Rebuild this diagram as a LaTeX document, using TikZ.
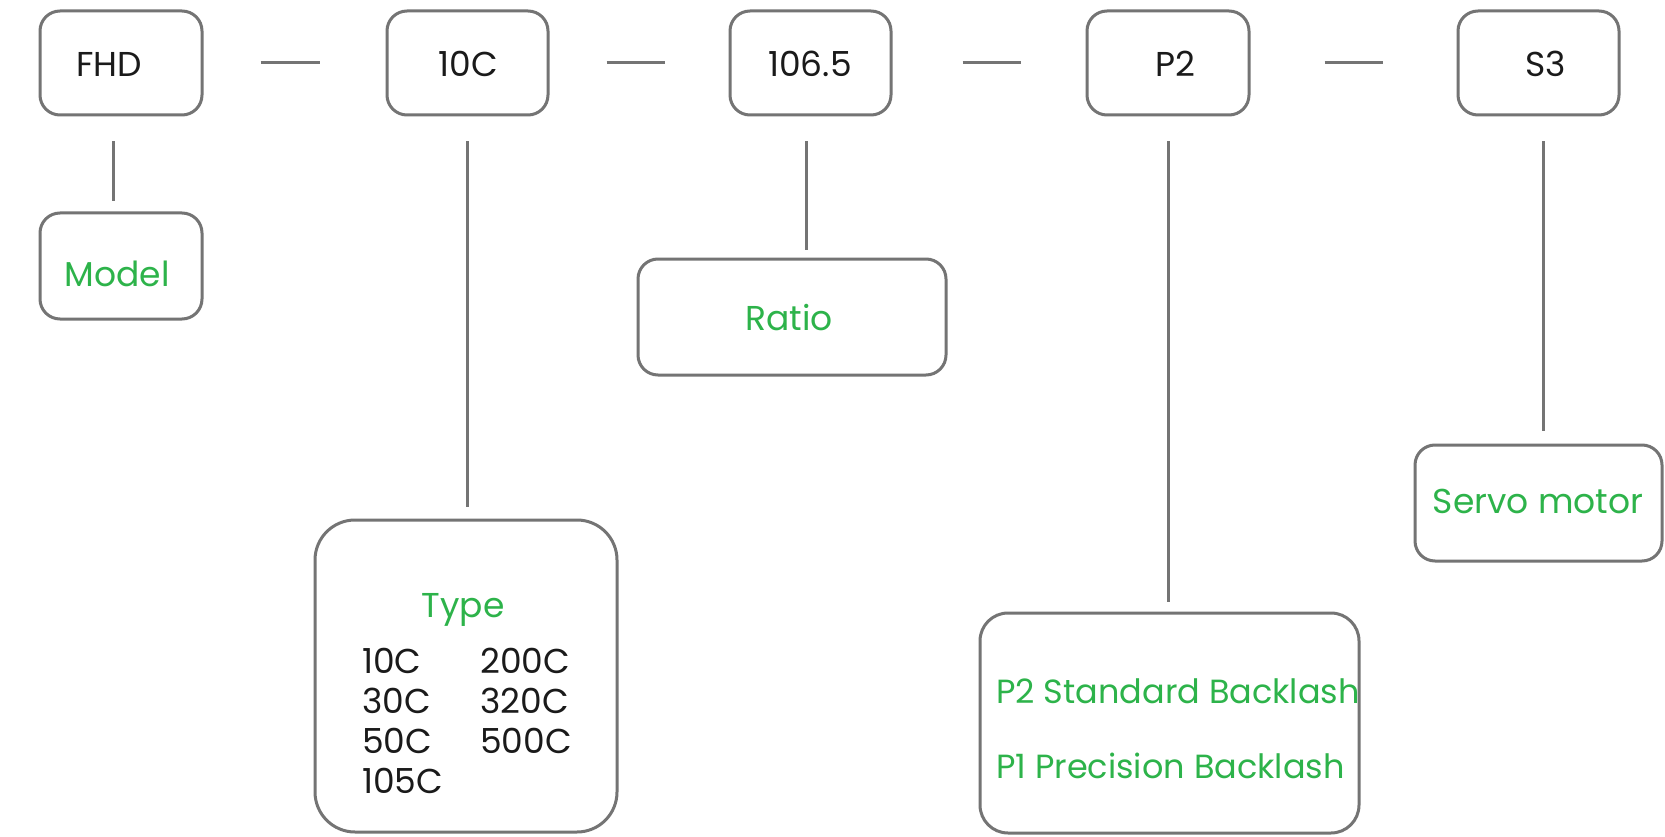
\documentclass[tikz,border=0pt]{standalone}
\usepackage{fontspec}
\setmainfont{Poppins}
\definecolor{boxgray}{HTML}{747474}
\definecolor{lblgreen}{HTML}{2DB34A}
\definecolor{txtblack}{HTML}{1A1A1A}
\tikzset{
  box/.style={draw=boxgray, line width=3pt, rounded corners=20pt, inner sep=0pt},
  conn/.style={draw=boxgray, line width=3pt},
  code/.style={text=txtblack, font=\fontsize{34.5}{40}\selectfont, inner sep=0pt},
  lbl/.style={text=lblgreen, font=\fontsize{34.5}{40}\selectfont, inner sep=0pt},
  lblsm/.style={text=lblgreen, font=\fontsize{33.5}{40}\selectfont, inner sep=0pt},
}
\begin{document}
\begin{tikzpicture}[x=1pt,y=-1pt]
\useasboundingbox[fill=white] (0,0) rectangle (1665,837);

% top code boxes
\node[box, minimum width=162pt, minimum height=104pt] (fhd)  at (121,63)    {};
\node[box, minimum width=161pt, minimum height=104pt] (c10)  at (467.5,63)  {};
\node[box, minimum width=161pt, minimum height=104pt] (v106) at (810.5,63)  {};
\node[box, minimum width=162pt, minimum height=104pt] (p2)   at (1168,63)   {};
\node[box, minimum width=161pt, minimum height=104pt] (s3)   at (1538.5,63) {};

\node[code] (tfhd)  at (109,64)  {FHD};
\node[code] (tc10)  at (468,64)  {10C};
\node[code] (tv106) at (810,64)  {106.5};
\node[code] (tp2)   at (1175,64) {P2};
\node[code] (ts3)   at (1546,64) {S3};

% description boxes
\node[box, minimum width=162pt, minimum height=106pt] (model) at (121,266) {};
\node[box, minimum width=308pt, minimum height=116pt] (ratio) at (792,317) {};
\node[box, rounded corners=40pt, minimum width=302pt, minimum height=312pt] (type) at (466,676) {};
\node[box, rounded corners=28pt, minimum width=379pt, minimum height=220pt] (back) at (1169.5,723) {};
\node[box, minimum width=247pt, minimum height=116pt] (servo) at (1538.5,503) {};

\node[lbl] (tmodel) at (117,274) {Model};
\node[lbl] (tratio) at (789,318) {Ratio};
\node[lbl] (tservo) at (1538,501) {Servo motor};
\node[lbl, anchor=base] (ttype) at (463,617) {Type};

\node[code, anchor=base west] (ta1) at (362,673) {10C};
\node[code, anchor=base west] (ta2) at (362,713) {30C};
\node[code, anchor=base west] (ta3) at (362,753) {50C};
\node[code, anchor=base west] (ta4) at (362,793) {105C};
\node[code, anchor=base west] (tb1) at (480,673) {200C};
\node[code, anchor=base west] (tb2) at (480,713) {320C};
\node[code, anchor=base west] (tb3) at (480,753) {500C};

\node[lblsm, anchor=base west] (tstd) at (996,703) {P2 Standard Backlash};
\node[lblsm, anchor=base west] (tpre) at (996,778) {P1 Precision Backlash};

% horizontal dashes
\draw[conn, shorten <=57pt, shorten >=66pt] (fhd.east) -- (c10.west);
\draw[conn, shorten <=57pt, shorten >=64pt] (c10.east) -- (v106.west);
\draw[conn, shorten <=70pt, shorten >=65pt] (v106.east) -- (p2.west);
\draw[conn, shorten <=74pt, shorten >=74pt] (p2.east) -- (s3.west);

% vertical connectors
\draw[conn, shorten <=25pt, shorten >=10pt] ([xshift=-8pt]fhd.south) -- ([xshift=-8pt]model.north);
\draw[conn, shorten <=25pt, shorten >=12pt] ([xshift=-0.5pt]c10.south) -- ([xshift=1pt]type.north);
\draw[conn, shorten <=25pt, shorten >=8pt] ([xshift=-4.5pt]v106.south) -- ([xshift=14pt]ratio.north);
\draw[conn, shorten <=25pt, shorten >=10pt] (p2.south) -- ([xshift=-1.5pt]back.north);
\draw[conn, shorten <=25pt, shorten >=13pt] ([xshift=4.5pt]s3.south) -- ([xshift=4.5pt]servo.north);
\end{tikzpicture}
\end{document}
